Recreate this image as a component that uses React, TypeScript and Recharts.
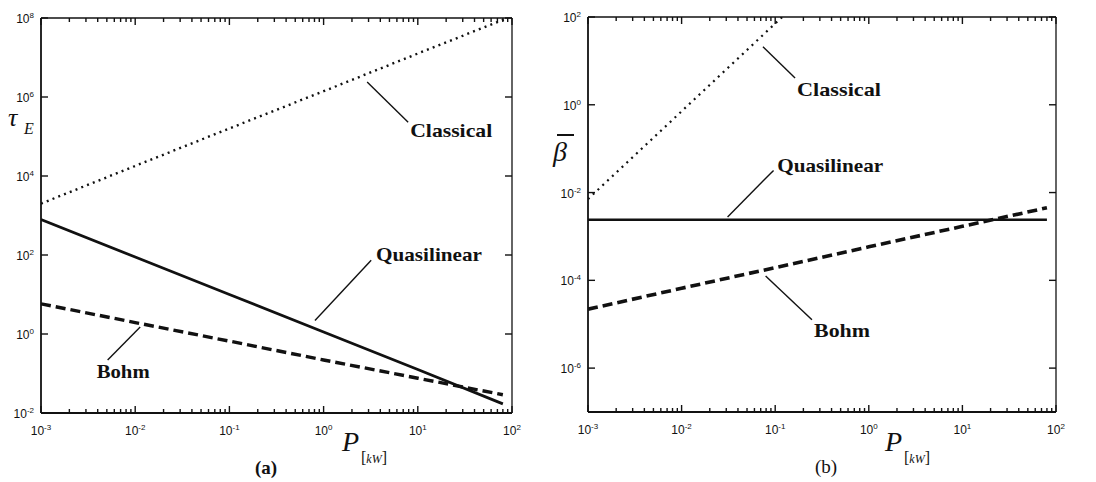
import { LineChart, Line, XAxis, YAxis, ReferenceLine, ReferenceDot } from 'recharts'

// (a) energy confinement time against power P [kW]
const pClassicalA = [0.001, 0.01, 0.1, 1, 10, 90]
const tauClassical = [2000, 18000, 160000, 1400000, 12600000, 100000000]
const pA = [0.001, 0.01, 0.1, 1, 10, 80]
const tauQuasilinear = [790, 89, 10, 1.12, 0.126, 0.017]
const tauBohm = [5.8, 1.95, 0.66, 0.22, 0.076, 0.029]

// (b) mean beta against power P [kW]
const pClassicalB = [0.001, 0.01, 0.1, 0.119]
const betaClassical = [0.0071, 0.71, 71, 100]
const pB = [0.001, 0.01, 0.1, 1, 10, 80]
const betaQuasilinear = [0.0024, 0.0024, 0.0024, 0.0024, 0.0024, 0.0024]
const betaBohm = [2.2e-5, 6.6e-5, 1.95e-4, 5.8e-4, 1.7e-3, 4.5e-3]

// axis decades (exponents of ten)
const xDecades = [-3, -2, -1, 0, 1, 2]
const tauDecades = [-2, 0, 2, 4, 6, 8]
const betaDecades = [-6, -4, -2, 0, 2]

const minorSteps = [1, 2, 3, 4, 5, 6, 7, 8, 9]
const xTicks = xDecades.flatMap((d) =>
  d === 2 ? [100] : minorSteps.map((m) => m * Math.pow(10, d))
)
const tauTicks = tauDecades.map((d) => Math.pow(10, d))
const betaTicks = betaDecades.map((d) => Math.pow(10, d))

const X_DOMAIN: [number, number] = [0.001, 100]

const rows = (xs: number[], ys: number[]) => xs.map((p, i) => ({ p, v: ys[i] }))

const exponent = (v: number) => Math.round(Math.log10(v))
const isMajor = (v: number) => Math.abs(Math.log10(v) - exponent(v)) < 1e-6

const INK = '#111'
const axisStyle = { stroke: INK, strokeWidth: 1.8 }
const MINOR = 4
const MAJOR = 7

function Pow({ x, y, e, anchor }: { x: number; y: number; e: number; anchor: 'start' | 'middle' | 'end' }) {
  return (
    <text x={x} y={y} textAnchor={anchor} fontFamily="Liberation Sans, Arial, sans-serif" fontSize={12} fill={INK} stroke="none">
      10
      <tspan fontSize={8} dy={-5}>
        {e}
      </tspan>
    </text>
  )
}

const BottomLabel = (props: any) => {
  if (!isMajor(props.payload.value)) return <g />
  return <Pow x={Number(props.x)} y={Number(props.y) + 22} e={exponent(props.payload.value)} anchor="middle" />
}

const LeftLabel = (props: any) => (
  <Pow x={Number(props.x) - 7} y={Number(props.y) + 5} e={exponent(props.payload.value)} anchor="end" />
)

type Series = { name: string; data: { p: number; v: number }[]; width: number; dash?: string }
type Note = {
  text: string
  from: [number, number]
  to: [number, number]
  at: [number, number]
  span: number
}

const seriesA: Series[] = [
  { name: 'Classical', data: rows(pClassicalA, tauClassical), width: 2.4, dash: '2 4.2' },
  { name: 'Quasilinear', data: rows(pA, tauQuasilinear), width: 2.8 },
  { name: 'Bohm', data: rows(pA, tauBohm), width: 3.4, dash: '10 5' },
]

const seriesB: Series[] = [
  { name: 'Classical', data: rows(pClassicalB, betaClassical), width: 2.2, dash: '2 4.6' },
  { name: 'Quasilinear', data: rows(pB, betaQuasilinear), width: 2.6 },
  { name: 'Bohm', data: rows(pB, betaBohm), width: 3.6, dash: '10 5' },
]

const notesA: Note[] = [
  { text: 'Classical', from: [2.9, 2.4e6], to: [7.9, 2.3e5], at: [8.3, 1e5], span: 82 },
  { text: 'Quasilinear', from: [3.2, 74], to: [0.81, 2.2], at: [3.6, 72], span: 106 },
  { text: 'Bohm', from: [0.0113, 1.5], to: [0.0051, 0.22], at: [0.0039, 0.078], span: 53 },
]

const notesB: Note[] = [
  { text: 'Classical', from: [0.074, 21], to: [0.163, 4.1], at: [0.171, 1.58], span: 84 },
  { text: 'Quasilinear', from: [0.096, 0.032], to: [0.031, 0.00276], at: [0.105, 0.0296], span: 106 },
  { text: 'Bohm', from: [0.079, 1.26e-4], to: [0.247, 1.26e-5], at: [0.26, 5.1e-6], span: 56 },
]

type Box = { left: number; width: number; axisL: number; axisR: number; axisT: number; axisB: number }

// a tick of `px` pixels on a log axis, as a multiplicative step in data units
const logStep = (px: number, domain: [number, number], lengthPx: number) =>
  Math.pow(10, (px * Math.log10(domain[1] / domain[0])) / lengthPx)

type Seg = { key: string; a: { x: number; y: number }; b: { x: number; y: number } }

// frame tick marks, pointing inward from all four sides
function frameTicks(box: Box, yDomain: [number, number], yTicks: number[]): Seg[] {
  const plotW = box.width - box.axisL - box.axisR
  const plotH = 482 - box.axisT - box.axisB
  const segs: Seg[] = []
  const [x0, x1] = X_DOMAIN
  const [y0, y1] = yDomain
  xTicks.forEach((v) => {
    const k = logStep(isMajor(v) ? MAJOR : MINOR, yDomain, plotH)
    segs.push({ key: 'b' + v, a: { x: v, y: y0 * k }, b: { x: v, y: y0 } })
    segs.push({ key: 't' + v, a: { x: v, y: y1 / k }, b: { x: v, y: y1 } })
  })
  const kx = logStep(MAJOR, X_DOMAIN, plotW)
  yTicks.forEach((v) => {
    segs.push({ key: 'l' + v, a: { x: x0 * kx, y: v }, b: { x: x0, y: v } })
    segs.push({ key: 'r' + v, a: { x: x1 / kx, y: v }, b: { x: x1, y: v } })
  })
  return segs
}

function Panel({
  box,
  series,
  notes,
  yDomain,
  yTicks,
}: {
  box: Box
  series: Series[]
  notes: Note[]
  yDomain: [number, number]
  yTicks: number[]
}) {
  const segs = frameTicks(box, yDomain, yTicks)
  return (
    <div style={{ position: 'absolute', left: box.left, top: 0 }}>
      <LineChart width={box.width} height={482} margin={{ top: 0, right: 0, bottom: 0, left: 0 }}>
        <XAxis
          xAxisId="bottom"
          type="number"
          dataKey="p"
          scale="log"
          domain={X_DOMAIN}
          allowDataOverflow
          ticks={xTicks}
          interval={0}
          height={box.axisB}
          tickSize={0}
          tickMargin={0}
          tickLine={false}
          axisLine={axisStyle}
          tick={(p: any) => <BottomLabel {...p} />}
        />
        <XAxis
          xAxisId="top"
          orientation="top"
          type="number"
          dataKey="p"
          scale="log"
          domain={X_DOMAIN}
          allowDataOverflow
          height={box.axisT}
          tickLine={false}
          tick={false}
          axisLine={{ stroke: INK, strokeWidth: 1.3 }}
        />
        <YAxis
          yAxisId="left"
          type="number"
          scale="log"
          domain={yDomain}
          allowDataOverflow
          ticks={yTicks}
          interval={0}
          width={box.axisL}
          tickSize={0}
          tickMargin={0}
          tickLine={false}
          axisLine={axisStyle}
          tick={(p: any) => <LeftLabel {...p} />}
        />
        <YAxis
          yAxisId="right"
          orientation="right"
          type="number"
          scale="log"
          domain={yDomain}
          allowDataOverflow
          width={box.axisR}
          tickLine={false}
          tick={false}
          axisLine={{ stroke: INK, strokeWidth: 1.3 }}
        />
        {segs.map((s) => (
          <ReferenceLine
            key={s.key}
            xAxisId="bottom"
            yAxisId="left"
            segment={[s.a, s.b]}
            stroke={INK}
            strokeWidth={1.4}
            ifOverflow="visible"
          />
        ))}
        {series.map((s) => (
          <Line
            key={s.name}
            xAxisId="bottom"
            yAxisId="left"
            data={s.data}
            dataKey="v"
            name={s.name}
            type="linear"
            stroke={INK}
            strokeWidth={s.width}
            strokeDasharray={s.dash}
            dot={false}
            activeDot={false}
            isAnimationActive={false}
          />
        ))}
        {notes.map((n) => (
          <ReferenceLine
            key={n.text + '-leader'}
            xAxisId="bottom"
            yAxisId="left"
            segment={[
              { x: n.from[0], y: n.from[1] },
              { x: n.to[0], y: n.to[1] },
            ]}
            stroke={INK}
            strokeWidth={1.4}
            ifOverflow="visible"
          />
        ))}
        {notes.map((n) => (
          <ReferenceDot
            key={n.text + '-label'}
            xAxisId="bottom"
            yAxisId="left"
            x={n.at[0]}
            y={n.at[1]}
            r={0}
            ifOverflow="visible"
            shape={(p: any) => (
              <text
                x={p.cx}
                y={p.cy}
                fontFamily="Liberation Serif, Times New Roman, serif"
                fontWeight="bold"
                fontSize={19}
                fill={INK}
                textLength={n.span}
                lengthAdjust="spacingAndGlyphs"
              >
                {n.text}
              </text>
            )}
          />
        ))}
      </LineChart>
    </div>
  )
}

const serif = 'Liberation Serif, Times New Roman, serif'

function Titles() {
  return (
    <svg
      width={1096}
      height={482}
      style={{ position: 'absolute', left: 0, top: 0, pointerEvents: 'none' }}
    >
      <text x={8} y={126} fontFamily={serif} fontStyle="italic" fontSize={26} fill={INK}>
        τ
      </text>
      <text x={24} y={134} fontFamily={serif} fontStyle="italic" fontSize={16} fill={INK}>
        E
      </text>

      <line x1={557} x2={574} y1={135} y2={135} stroke={INK} strokeWidth={2} />
      <text x={553} y={161} fontFamily={serif} fontStyle="italic" fontSize={28} fill={INK}>
        β
      </text>

      {[342, 885].map((x) => (
        <g key={x}>
          <text x={x} y={451} fontFamily={serif} fontStyle="italic" fontSize={28} fill={INK}>
            P
          </text>
          <text x={x + 19} y={463} fontFamily={serif} fontSize={16} fill={INK}>
            [<tspan fontStyle="italic" fontSize={12}>kW</tspan>]
          </text>
        </g>
      ))}

      <text x={266} y={474} textAnchor="middle" fontFamily={serif} fontWeight="bold" fontSize={19} fill={INK}>
        (a)
      </text>
      <text x={826} y={473} textAnchor="middle" fontFamily={serif} fontSize={19} fill={INK}>
        (b)
      </text>
    </svg>
  )
}

export default function App() {
  return (
    <div style={{ position: 'absolute', left: 0, top: 0, width: 1096, height: 482, background: '#fff' }}>
      <Panel
        box={{ left: 0, width: 548, axisL: 41, axisR: 36, axisT: 18, axisB: 69 }}
        series={seriesA}
        notes={notesA}
        yDomain={[0.01, 1e8]}
        yTicks={tauTicks}
      />
      <Panel
        box={{ left: 548, width: 548, axisL: 40, axisR: 40, axisT: 17, axisB: 70 }}
        series={seriesB}
        notes={notesB}
        yDomain={[1e-7, 100]}
        yTicks={betaTicks}
      />
      <Titles />
    </div>
  )
}
